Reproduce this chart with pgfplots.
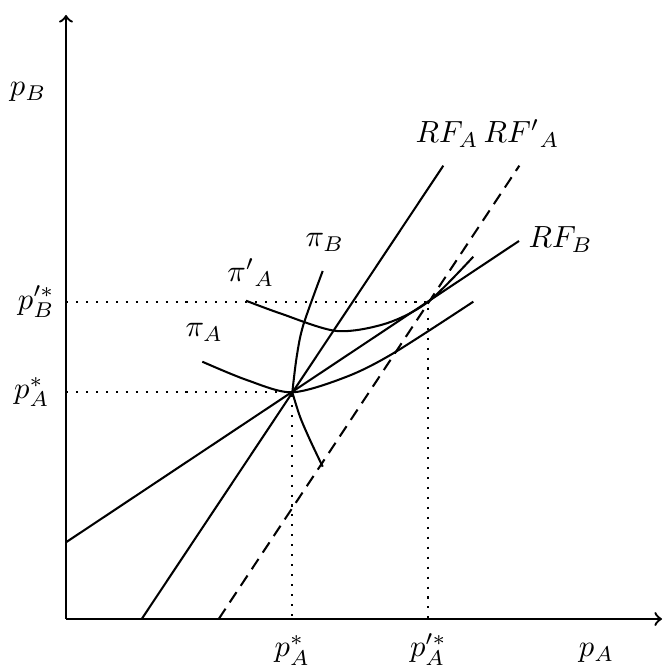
\RequirePackage{fix-cm}
\documentclass[border=0pt]{standalone}
\usepackage{pgfplots}
\pgfplotsset{compat=1.18}
\begin{document}
\begin{tikzpicture}[every node/.style={font=\fontsize{10.45}{13}\selectfont}]
\begin{axis}[
  x=0.3415pt, y=0.3415pt,
  xmin=0, xmax=596, ymin=0, ymax=604,
  axis lines=left,
  axis line style={line width=0.8pt, ->},
  xtick=\empty, ytick=\empty,
  clip=false,
]
\path (axis cs:-66,-50) rectangle (axis cs:597,619);
% reaction functions
\addplot[black, line width=0.7pt] coordinates {(75.7,0) (377.3,453.3)};
\addplot[black, line width=0.7pt, dash pattern=on 4.2pt off 2.6pt] coordinates {(152.7,0) (453.3,453.3)};
\addplot[black, line width=0.7pt] coordinates {(0,76.7) (453,378)};
% iso-profit curves
\addplot[black, line width=0.7pt, smooth] coordinates {(136.3,257.3) (180.7,239) (226.3,226.7) (280.7,242.3) (327.3,265.7) (407.3,317.3)};
\addplot[black, line width=0.7pt, smooth] coordinates {(180,318.3) (214,305.7) (270.7,288) (320.7,295.7) (362.3,317.3) (407.3,362.3)};
\addplot[black, line width=0.7pt, smooth] coordinates {(256.7,348) (237.3,294) (230.7,262.3) (226.3,226.7)};
\addplot[black, line width=0.7pt, smooth] coordinates {(226.3,226.7) (234,202.3) (244,179) (256.7,152.3)};
% dotted guides
\addplot[black, line width=0.7pt, dash pattern=on 0.7pt off 2.7pt] coordinates {(0,226.7) (226.3,226.7) (226.3,0)};
\addplot[black, line width=0.7pt, dash pattern=on 0.7pt off 2.7pt] coordinates {(0,317.3) (362.3,317.3) (362.3,0)};
% labels
\node[anchor=base west, inner sep=0pt] at (axis cs:349,476) {$RF_A$};
\node[anchor=base west, inner sep=0pt] at (axis cs:417,476) {$RF'{}_A$};
\node[anchor=base west, inner sep=0pt] at (axis cs:462,371) {$RF_B$};
\node[anchor=base west, inner sep=0pt] at (axis cs:239,372) {$\pi_B$};
\node[anchor=base west, inner sep=0pt] at (axis cs:160.7,337) {$\pi'{}_A$};
\node[anchor=base west, inner sep=0pt] at (axis cs:119,282) {$\pi_A$};
\node[anchor=base west, inner sep=0pt] at (axis cs:-56.6,523.3) {$p_B$};
\node[anchor=base west, inner sep=0pt] at (axis cs:512.3,-38) {$p_A$};
\node[anchor=base, inner sep=0pt] at (axis cs:226.3,-38) {$p^*_A$};
\node[anchor=base, inner sep=0pt] at (axis cs:362.3,-38) {$p'^*_A$};
\node[anchor=east, inner sep=0pt] at (axis cs:-16,226.7) {$p^*_A$};
\node[anchor=east, inner sep=0pt] at (axis cs:-11,317.3) {$p'^*_B$};
\end{axis}
\end{tikzpicture}
\end{document}
